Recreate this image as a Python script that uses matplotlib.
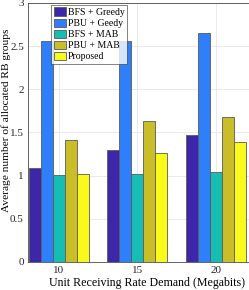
import numpy as np
import matplotlib
matplotlib.use("Agg")
import matplotlib.pyplot as plt

plt.rcParams['font.family'] = ['Liberation Serif', 'DejaVu Serif']

rates = [10, 15, 20]
series = ['BFS + Greedy', 'PBU + Geedy', 'BFS + MAB', 'PBU + MAB', 'Proposed']
bfs_greedy = [1.09, 1.30, 1.47]
pbu_greedy = [2.56, 2.56, 2.65]
bfs_mab = [1.005, 1.02, 1.045]
pbu_mab = [1.415, 1.63, 1.675]
proposed = [1.015, 1.265, 1.39]
colors = ['#3e26a8', '#2f7ffa', '#17bdb2', '#c9be2a', '#f9f91c']

def main():
    fig = plt.figure(figsize=(2.49, 2.90), dpi=100)
    ax = fig.add_axes([0.1124, 0.0966, 0.8876, 0.8931])
    values = [bfs_greedy, pbu_greedy, bfs_mab, pbu_mab, proposed]
    w = 0.764
    x = np.array(rates, dtype=float)
    for i in range(5):
        ax.bar(x + (i - 2) * w, values[i], width=w, color=colors[i],
               edgecolor='#5a5a5a', linewidth=0.6, label=series[i], zorder=3)
    ax.set_xlim(8.03, 22.1)
    ax.set_ylim(0, 3)
    ax.set_xticks(rates)
    ax.set_yticks([0, 0.5, 1, 1.5, 2, 2.5, 3])
    ax.set_yticklabels(['0', '0.5', '1', '1.5', '2', '2.5', '3'])
    ax.grid(True, color='#e6e6e6', linewidth=0.6, zorder=0)
    ax.tick_params(labelsize=8, length=0, colors='#262626', pad=3)
    for s in ax.spines.values():
        s.set_color('#262626')
        s.set_linewidth(0.5)
    ax.set_xlabel('Unit Receiving Rate Demand (Megabits)', fontsize=8.6, va='center')
    ax.set_ylabel('Average number of allocated RB groups', fontsize=8.2, va='center')
    ax.xaxis.set_label_coords(0.54, -0.082)
    ax.yaxis.set_label_coords(-0.1, 0.548)
    leg = ax.legend(loc='upper left', bbox_to_anchor=(0.105, 0.992), fontsize=7,
                    frameon=True, fancybox=False, borderpad=0.25, labelspacing=0.18,
                    handlelength=1.3, handleheight=0.9, handletextpad=0.15,
                    borderaxespad=0)
    leg.get_frame().set_edgecolor('#262626')
    leg.get_frame().set_linewidth(0.5)
    fig.savefig('out.png', dpi=100)

if __name__ == '__main__':
    main()
